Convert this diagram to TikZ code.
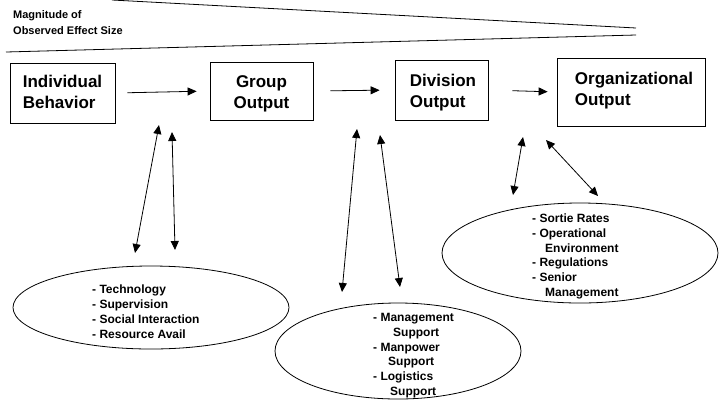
\documentclass[tikz,border=0pt]{standalone}
\usepackage{fontspec}
\setmainfont{Liberation Sans}
\usetikzlibrary{arrows.meta,shapes.geometric}
\begin{document}
\begin{tikzpicture}[x=1pt,y=-1pt,
  box/.style={draw, line width=0.8pt, inner sep=0pt},
  boxtext/.style={inner sep=0pt, font=\fontsize{17}{21}\selectfont\bfseries},
  oval/.style={draw, ellipse, line width=0.8pt, inner sep=0pt},
  lst/.style={align=left, inner sep=0pt, anchor=north west, font=\fontsize{12}{14.8}\selectfont\bfseries},
  arr/.style={-{Triangle[length=9pt,width=8pt]}, line width=0.8pt},
  darr/.style={{Triangle[length=9pt,width=8pt]}-{Triangle[length=9pt,width=8pt]}, line width=0.8pt}]
\useasboundingbox (0,0) rectangle (719,400);
% wedge
\draw[line width=0.8pt] (112,0) -- (636,28);
\draw[line width=0.8pt] (6,52) -- (636,35);
\node[align=left, inner sep=0pt, anchor=north west, font=\fontsize{11}{16}\selectfont\bfseries] (title) at (13,10.5) {Magnitude of\\Observed Effect Size};
% boxes
\node[box, minimum width=105pt, minimum height=60pt] (ib) at (62.5,93) {};
\node[box, minimum width=103pt, minimum height=58pt] (go) at (261.5,91) {};
\node[box, minimum width=93pt, minimum height=60pt] (dv) at (441.5,90) {};
\node[box, minimum width=148pt, minimum height=68pt] (org) at (631,92) {};
\node[boxtext, align=left] (ibt) at (62.5,91.5) {Individual\\Behavior};
\node[boxtext, align=center] (got) at (261.5,94) {Group\\Output};
\node[boxtext, align=left] (dvt) at (443,92.5) {Division\\Output};
\node[boxtext, align=left] (orgt) at (634,90.5) {Organizational\\Output};
% horizontal arrows
\draw[arr, shorten <=12pt, shorten >=13pt] (ib.east) -- (go.west);
\draw[arr, shorten <=17pt, shorten >=15pt] (go.east) -- (dv.west);
\draw[arr, shorten <=24pt, shorten >=9pt] (dv.east) -- (org.west);
% ellipses
\node[oval, minimum width=276pt, minimum height=83pt] (e1) at (151,307.5) {};
\node[oval, minimum width=246pt, minimum height=96pt] (e2) at (398,351) {};
\node[oval, minimum width=276pt, minimum height=100pt] (e3) at (580,253) {};
\node[lst] (t1) at (92,285) {- Technology\\- Supervision\\- Social Interaction\\- Resource Avail};
\node[lst] (t2) at (373,313) {- Management\\\hspace*{20pt}Support\\- Manpower\\\hspace*{15pt}Support\\- Logistics\\\hspace*{17pt}Support};
\node[lst] (t3) at (532,213.5) {- Sortie Rates\\- Operational\\\hspace*{13pt}Environment\\- Regulations\\- Senior\\\hspace*{13pt}Management};
% double arrows
\coordinate (a1t) at (159,125); \coordinate (a1b) at (135,253);
\coordinate (a2t) at (172,132); \coordinate (a2b) at (175,250);
\coordinate (b1t) at (357,129); \coordinate (b1b) at (342,292);
\coordinate (b2t) at (380,135); \coordinate (b2b) at (400,287);
\coordinate (c1t) at (523,137); \coordinate (c1b) at (513,195);
\coordinate (c2t) at (546,140); \coordinate (c2b) at (598,196);
\draw[darr] (a1t) -- (a1b);
\draw[darr] (a2t) -- (a2b);
\draw[darr] (b1t) -- (b1b);
\draw[darr] (b2t) -- (b2b);
\draw[darr] (c1t) -- (c1b);
\draw[darr] (c2t) -- (c2b);
\end{tikzpicture}
\end{document}
